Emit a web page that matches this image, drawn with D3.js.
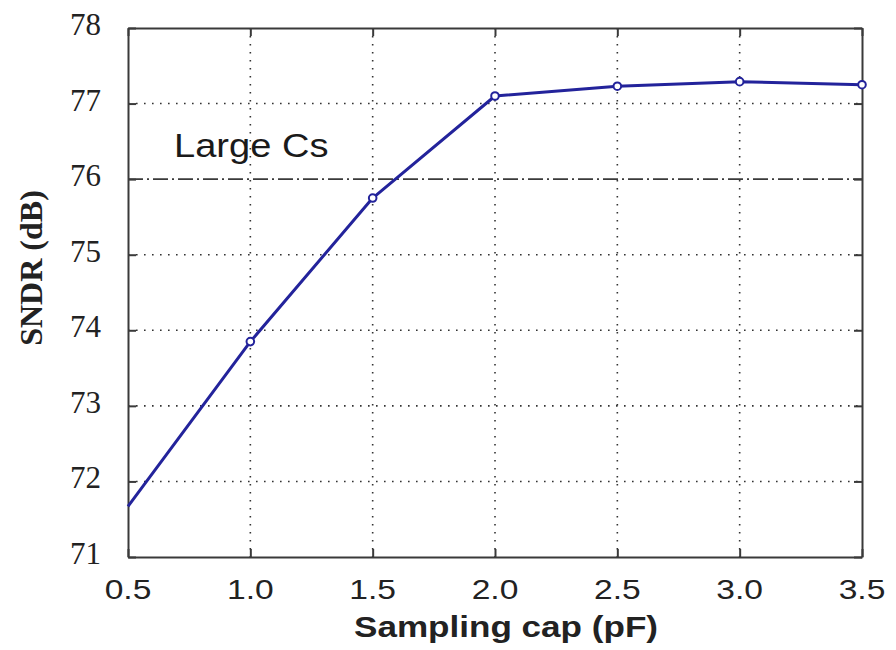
<!DOCTYPE html>
<html>
<head>
<meta charset="utf-8">
<script src="https://cdn.jsdelivr.net/npm/d3@7"></script>
<style>
  html, body { margin: 0; padding: 0; background: #fff; }
  svg { display: block; }
</style>
</head>
<body>
<svg id="chart" width="896" height="650"></svg>
<script>
const capValues = [0.5, 1.0, 1.5, 2.0, 2.5, 3.0, 3.5];
const sndrValues = [71.67, 73.85, 75.75, 77.10, 77.23, 77.29, 77.25];
const xTicks = [0.5, 1.0, 1.5, 2.0, 2.5, 3.0, 3.5];
const yTicks = [71, 72, 73, 74, 75, 76, 77, 78];
const refLevel = 76;
const annotation = "Large Cs";
const xLabel = "Sampling cap (pF)";
const yLabel = "SNDR (dB)";

const svg = d3.select("#chart");
const m = { left: 128, right: 862, top: 28, bottom: 557 };

const x = d3.scaleLinear().domain([0.5, 3.5]).range([m.left, m.right]);
const y = d3.scaleLinear().domain([71, 78]).range([m.bottom, m.top]);

const sans = "'Liberation Sans', Arial, sans-serif";
const serif = "'Liberation Serif', 'Times New Roman', serif";
const axisColor = "#3a3a3a";
const lineColor = "#23239b";

// grid
const grid = svg.append("g");
grid.selectAll("line.gx").data(xTicks.slice(1, -1)).enter().append("line")
  .attr("x1", d => x(d)).attr("x2", d => x(d))
  .attr("y1", m.top).attr("y2", m.bottom)
  .attr("stroke", "#333").attr("stroke-width", 1.6)
  .attr("stroke-dasharray", "1.6,6.4");
grid.selectAll("line.gy").data(yTicks.filter(d => d !== 71 && d !== 78 && d !== refLevel)).enter().append("line")
  .attr("x1", m.left).attr("x2", m.right)
  .attr("y1", d => y(d)).attr("y2", d => y(d))
  .attr("stroke", "#333").attr("stroke-width", 1.6)
  .attr("stroke-dasharray", "1.6,6.4");

// reference dash-dot line
svg.append("line")
  .attr("x1", m.left).attr("x2", m.right)
  .attr("y1", y(refLevel)).attr("y2", y(refLevel))
  .attr("stroke", "#3a3a3a").attr("stroke-width", 1.6)
  .attr("stroke-dasharray", "15,4,2,4");

// axes via d3 axis (ticks inward)
const tickLen = 8;
const axB = svg.append("g").attr("transform", `translate(0,${m.bottom})`)
  .call(d3.axisBottom(x).tickValues(xTicks).tickSizeInner(-tickLen).tickSizeOuter(0).tickFormat(""));
const axT = svg.append("g").attr("transform", `translate(0,${m.top})`)
  .call(d3.axisTop(x).tickValues(xTicks).tickSizeInner(-tickLen).tickSizeOuter(0).tickFormat(""));
const axL = svg.append("g").attr("transform", `translate(${m.left},0)`)
  .call(d3.axisLeft(y).tickValues(yTicks).tickSizeInner(-tickLen).tickSizeOuter(0).tickFormat(""));
const axR = svg.append("g").attr("transform", `translate(${m.right},0)`)
  .call(d3.axisRight(y).tickValues(yTicks).tickSizeInner(-tickLen).tickSizeOuter(0).tickFormat(""));
[axB, axT, axL, axR].forEach(a => {
  a.selectAll("path.domain").attr("stroke", axisColor).attr("stroke-width", 2);
  a.selectAll(".tick line").attr("stroke", axisColor).attr("stroke-width", 2);
});

// tick labels
svg.append("g").selectAll("text").data(xTicks).enter().append("text")
  .attr("transform", d => `translate(${x(d)},599) scale(1.2,1)`)
  .attr("text-anchor", "middle")
  .attr("font-family", sans).attr("font-size", 28).attr("fill", "#222")
  .text(d => d.toFixed(1));
svg.append("g").selectAll("text").data(yTicks).enter().append("text")
  .attr("x", 101).attr("y", d => y(d) + 7)
  .attr("text-anchor", "end")
  .attr("font-family", serif).attr("font-size", 31).attr("fill", "#222")
  .text(d => d);

// axis labels
svg.append("text")
  .attr("transform", `translate(506,637) scale(1.17,1)`)
  .attr("text-anchor", "middle")
  .attr("font-family", sans).attr("font-weight", "bold").attr("font-size", 30).attr("fill", "#222")
  .text(xLabel);
svg.append("text")
  .attr("transform", `translate(42,268) rotate(-90)`)
  .attr("text-anchor", "middle")
  .attr("font-family", serif).attr("font-weight", "bold").attr("font-size", 32).attr("fill", "#222")
  .text(yLabel);

// annotation
svg.append("text")
  .attr("transform", `translate(174,157) scale(1.12,1)`)
  .attr("font-family", sans).attr("font-size", 34).attr("fill", "#1a1a1a")
  .text(annotation);

// data line
const data = capValues.map((c, i) => ({ c, v: sndrValues[i] }));
svg.append("path").datum(data)
  .attr("fill", "none").attr("stroke", lineColor).attr("stroke-width", 3)
  .attr("stroke-linejoin", "round")
  .attr("d", d3.line().x(d => x(d.c)).y(d => y(d.v)));
svg.append("g").selectAll("circle").data(data.slice(1)).enter().append("circle")
  .attr("cx", d => x(d.c)).attr("cy", d => y(d.v)).attr("r", 3.8)
  .attr("fill", "#fff").attr("stroke", lineColor).attr("stroke-width", 2);
</script>
</body>
</html>
